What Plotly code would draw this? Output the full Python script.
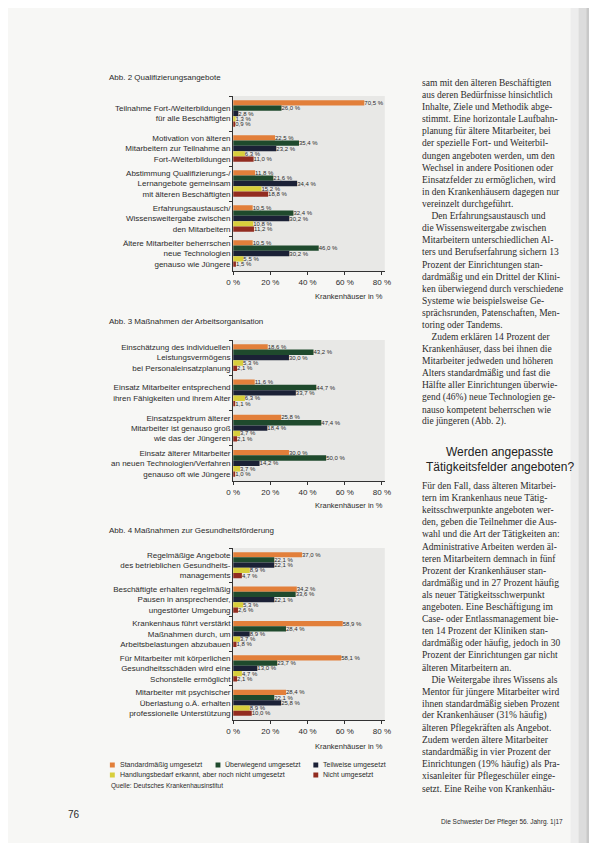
import plotly.graph_objects as go

# ---------------- data ----------------
series = ["Standardmäßig umgesetzt", "Überwiegend umgesetzt", "Teilweise umgesetzt",
          "Handlungsbedarf erkannt, aber noch nicht umgesetzt", "Nicht umgesetzt"]
colors = ["#e27f3a", "#1f4a2d", "#1b2136", "#d8cf3c", "#922c20"]

cats2 = ["Teilnahme Fort-/Weiterbildungen<br>für alle Beschäftigten",
         "Motivation von älteren<br>Mitarbeitern zur Teilnahme an<br>Fort-/Weiterbildungen",
         "Abstimmung Qualifizierungs-/<br>Lernangebote gemeinsam<br>mit älteren Beschäftigten",
         "Erfahrungsaustausch/<br>Wissensweitergabe zwischen<br>den Mitarbeitern",
         "Ältere Mitarbeiter beherrschen<br>neue Technologien<br>genauso wie Jüngere"]
vals2 = [[70.5, 22.5, 11.8, 10.5, 10.5],   # Standardmäßig
         [26.0, 35.4, 21.6, 32.4, 46.0],   # Überwiegend
         [2.8, 23.2, 34.4, 30.2, 30.2],    # Teilweise
         [1.3, 6.3, 15.2, 10.8, 5.5],      # Handlungsbedarf
         [0.9, 11.0, 18.8, 11.2, 1.5]]     # Nicht umgesetzt

cats3 = ["Einschätzung des individuellen<br>Leistungsvermögens<br>bei Personaleinsatzplanung",
         "Einsatz Mitarbeiter entsprechend<br>ihren Fähigkeiten und ihrem Alter",
         "Einsatzspektrum älterer<br>Mitarbeiter ist genauso groß<br>wie das der Jüngeren",
         "Einsatz älterer Mitarbeiter<br>an neuen Technologien/Verfahren<br>genauso oft wie Jüngere"]
vals3 = [[18.6, 11.6, 25.8, 30.0],
         [43.2, 44.7, 47.4, 50.0],
         [30.0, 33.7, 18.4, 14.2],
         [5.3, 6.3, 3.7, 3.7],
         [2.1, 1.1, 2.1, 1.0]]

cats4 = ["Regelmäßige Angebote<br>des betrieblichen Gesundheits-<br>managements",
         "Beschäftigte erhalten regelmäßig<br>Pausen in ansprechender,<br>ungestörter Umgebung",
         "Krankenhaus führt verstärkt<br>Maßnahmen durch, um<br>Arbeitsbelastungen abzubauen",
         "Für Mitarbeiter mit körperlichen<br>Gesundheitsschäden wird eine<br>Schonstelle ermöglicht",
         "Mitarbeiter mit psychischer<br>Überlastung o.Ä. erhalten<br>professionelle Unterstützung"]
vals4 = [[37.0, 34.2, 58.9, 58.1, 28.4],
         [22.1, 33.6, 28.4, 23.7, 22.1],
         [22.1, 22.1, 8.9, 13.0, 25.8],
         [8.9, 5.3, 3.7, 4.7, 8.9],
         [4.7, 2.6, 1.8, 2.1, 10.0]]

x_ticks = [0, 20, 40, 60, 80]

titles = ["Abb. 2 Qualifizierungsangebote",
          "Abb. 3 Maßnahmen der Arbeitsorganisation",
          "Abb. 4 Maßnahmen zur Gesundheitsförderung"]

body1 = ["sam mit den älteren Beschäftigten",
         "aus deren Bedürfnisse hinsichtlich",
         "Inhalte, Ziele und Methodik abge-",
         "stimmt. Eine horizontale Laufbahn-",
         "planung für ältere Mitarbeiter, bei",
         "der spezielle Fort- und Weiterbil-",
         "dungen angeboten werden, um den",
         "Wechsel in andere Positionen oder",
         "Einsatzfelder zu ermöglichen, wird",
         "in den Krankenhäusern dagegen nur",
         "vereinzelt durchgeführt.",
         "    Den Erfahrungsaustausch und",
         "die Wissensweitergabe zwischen",
         "Mitarbeitern unterschiedlichen Al-",
         "ters und Berufserfahrung sichern 13",
         "Prozent der Einrichtungen stan-",
         "dardmäßig und ein Drittel der Klini-",
         "ken überwiegend durch verschiedene",
         "Systeme wie beispielsweise Ge-",
         "sprächsrunden, Patenschaften, Men-",
         "toring oder Tandems.",
         "    Zudem erklären 14 Prozent der",
         "Krankenhäuser, dass bei ihnen die",
         "Mitarbeiter jedweden und höheren",
         "Alters standardmäßig und fast die",
         "Hälfte aller Einrichtungen überwie-",
         "gend (46%) neue Technologien ge-",
         "nauso kompetent beherrschen wie",
         "die jüngeren (Abb. 2)."]
heading = ["Werden angepasste", "Tätigkeitsfelder angeboten?"]
body2 = ["Für den Fall, dass älteren Mitarbei-",
         "tern im Krankenhaus neue Tätig-",
         "keitsschwerpunkte angeboten wer-",
         "den, geben die Teilnehmer die Aus-",
         "wahl und die Art der Tätigkeiten an:",
         "Administrative Arbeiten werden äl-",
         "teren Mitarbeitern demnach in fünf",
         "Prozent der Krankenhäuser stan-",
         "dardmäßig und in 27 Prozent häufig",
         "als neuer Tätigkeitsschwerpunkt",
         "angeboten. Eine Beschäftigung im",
         "Case- oder Entlassmanagement bie-",
         "ten 14 Prozent der Kliniken stan-",
         "dardmäßig oder häufig, jedoch in 30",
         "Prozent der Einrichtungen gar nicht",
         "älteren Mitarbeitern an.",
         "    Die Weitergabe ihres Wissens als",
         "Mentor für jüngere Mitarbeiter wird",
         "ihnen standardmäßig sieben Prozent",
         "der Krankenhäuser (31% häufig)",
         "älteren Pflegekräften als Angebot.",
         "Zudem werden ältere Mitarbeiter",
         "standardmäßig in vier Prozent der",
         "Einrichtungen (19% häufig) als Pra-",
         "xisanleiter für Pflegeschüler einge-",
         "setzt. Eine Reihe von Krankenhäu-"]

# ---------------- layout helpers ----------------
W, H = 597, 843
def px(x): return x / W
def py(y): return 1 - y / H

SANS = "Liberation Sans, Arial, sans-serif"
SERIF = "Liberation Serif, DejaVu Serif, serif"
TXT = "#2b2b2b"

panels = [(88, 263), (332, 473), (540, 712)]
x_left, x_right = 223, 378
datasets = [(cats2, vals2), (cats3, vals3), (cats4, vals4)]

fig = go.Figure()
for p, (cats, vals) in enumerate(datasets):
    suffix = "" if p == 0 else str(p + 1)
    for s in range(len(series)):
        fig.add_trace(go.Bar(
            y=cats, x=vals[s], orientation="h", name=series[s],
            marker=dict(color=colors[s], line=dict(width=0)),
            text=vals[s], texttemplate="%{x:.1f} %", textposition="outside",
            textfont=dict(size=6, color=TXT, family=SANS),
            constraintext="none", cliponaxis=False,
            xaxis="x" + suffix, yaxis="y" + suffix, showlegend=False,
            offsetgroup=str(s)))

layout = dict(width=W, height=H, margin=dict(l=0, r=0, t=0, b=0),
              paper_bgcolor="#f7f7f5", plot_bgcolor="#e8e8e6",
              barmode="group", bargap=0.24, bargroupgap=0.0,
              separators=",.", font=dict(family=SANS, color=TXT),
              showlegend=False)
for p, (top, bot) in enumerate(panels):
    suffix = "" if p == 0 else str(p + 1)
    layout["xaxis" + suffix] = dict(
        domain=[px(x_left), px(x_right)], range=[0, 81.5], anchor="y" + suffix,
        tickvals=x_ticks, ticktext=[f"{t} %" for t in x_ticks],
        showline=True, linecolor="#333", linewidth=1, ticks="outside", ticklen=3,
        tickcolor="#333", tickfont=dict(size=8, family=SANS, color=TXT),
        showgrid=False, zeroline=False, fixedrange=True)
    layout["yaxis" + suffix] = dict(
        domain=[py(bot), py(top)], anchor="x" + suffix, type="category",
        autorange="reversed", showline=True, linecolor="#333", linewidth=1,
        ticks="outside", tickson="boundaries", ticklen=3, tickcolor="#333",
        tickfont=dict(size=8, family=SANS, color=TXT), showgrid=False,
        zeroline=False, fixedrange=True)
fig.update_layout(**layout)

ann = []
def add_text(x, y, text, size, family=SANS, anchor="left", color=TXT):
    ann.append(dict(x=px(x), y=py(y), xref="paper", yref="paper", text=text,
                    showarrow=False, xanchor=anchor, yanchor="middle",
                    font=dict(size=size, family=family, color=color)))

title_y = [70, 313, 522]
unit_y = [288, 497, 738]
for t, ty, uy in zip(titles, title_y, unit_y):
    add_text(94, ty, t, 8)
    add_text(378, uy, "Krankenhäuser in %", 7.5, anchor="right")

# legend (drawn manually in page layout)
legend_pos = [(97, 757), (205, 757), (305, 757), (97, 767), (305, 767)]
shapes = []
for (lx, ly), name, col in zip(legend_pos, series, colors):
    shapes.append(dict(type="rect", xref="paper", yref="paper",
                       x0=px(lx), x1=px(lx + 5), y0=py(ly + 2.5), y1=py(ly - 2.5),
                       fillcolor=col, line=dict(width=0)))
    add_text(lx + 8, ly, name, 7)
add_text(96, 778, "Quelle: Deutsches Krankenhausinstitut", 6.5)

# right text column
line_h = 12.1
for i, line in enumerate(body1):
    add_text(414, 75 + i * line_h, line, 9.5, family=SERIF)
add_text(496, 444, heading[0], 12, family=SANS, anchor="center", color="#222")
add_text(496, 459, heading[1], 12, family=SANS, anchor="center", color="#222")
for i, line in enumerate(body2):
    add_text(414, 478 + i * line_h, line, 9.5, family=SERIF)

# page edge shadow (scan)
edge = [(568, 576, "#ededed"), (576, 584, "#dcdcdc"), (584, 591, "#c8c8c8"), (591, 597, "#b4b4b4")]
for x0, x1, c in edge:
    shapes.append(dict(type="rect", xref="paper", yref="paper", x0=px(x0), x1=px(x1),
                       y0=0, y1=1, fillcolor=c, line=dict(width=0), layer="below"))

# folio
add_text(52, 806, "76", 10, family=SANS)
add_text(562, 814, "Die Schwester Der Pfleger 56. Jahrg. 1|17", 6.5, anchor="right")

fig.update_layout(annotations=ann, shapes=shapes)
fig.write_html("out.html")
